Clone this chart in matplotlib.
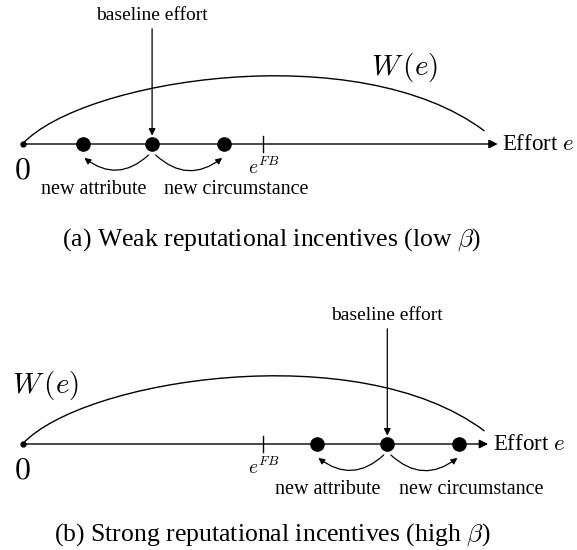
import matplotlib
matplotlib.use('Agg')
import matplotlib.pyplot as plt
from matplotlib.patches import FancyArrowPatch, PathPatch
from matplotlib.path import Path

plt.rcParams['font.family'] = ['Liberation Serif', 'DejaVu Serif']
plt.rcParams['mathtext.fontset'] = 'cm'

# effort axis in units of first-best effort (e^FB = 1)
e_fb = 1.0
captions = [r'(a) Weak reputational incentives (low $\beta$)',
            r'(b) Strong reputational incentives (high $\beta$)']
# new attribute, baseline, new circumstance
weak_efforts = [0.25, 0.54, 0.84]
strong_efforts = [1.225, 1.52, 1.82]
axis_ends = [1.98, 1.94]
# W(e): bezier control points (effort, welfare)
w_ctrl_x = [0.0, 0.25, 1.4, 1.925]
w_ctrl_y = [0.0, 0.27, 0.45, 0.054]
w_label_xy = [(1.59, 0.317), (0.098, 0.242)]
caption_y = [-0.40, -0.378]

SCALE = 240.0  # pixels per effort unit


def draw_panel(ax, efforts, axis_end, w_xy, caption, cap_y):
    ax.set_axis_off()
    # effort axis
    ax.annotate('', xy=(axis_end, 0), xytext=(0, 0),
                arrowprops=dict(arrowstyle='-|>', lw=1.0, color='k',
                                mutation_scale=13, shrinkA=0, shrinkB=0))
    ax.text(axis_end + 0.02, 0, r'Effort $e$', fontsize=16.5, ha='left', va='center')
    ax.plot([0], [0], 'o', color='k', ms=3.5)
    ax.text(0.0, -0.112, r'$0$', fontsize=23, ha='center', va='center')

    # welfare curve
    verts = list(zip(w_ctrl_x, w_ctrl_y))
    path = Path(verts, [Path.MOVETO, Path.CURVE4, Path.CURVE4, Path.CURVE4])
    ax.add_patch(PathPatch(path, fill=False, lw=1.0, color='k'))
    ax.text(w_xy[0], w_xy[1], r'$W\,(e)$', fontsize=21, ha='center', va='center')

    # first-best tick
    ax.plot([e_fb, e_fb], [-0.035, 0.035], color='k', lw=1.0)
    ax.text(e_fb + 0.005, -0.052, r'$e^{FB}$', fontsize=14, ha='center', va='top')

    lo, base, hi = efforts
    ax.plot(efforts, [0] * len(efforts), 'o', color='k', ms=9.5, zorder=5)

    # baseline label and arrow
    ax.text(base, 0.535, 'baseline effort', fontsize=14, ha='center', va='center')
    ax.annotate('', xy=(base, 0.035), xytext=(base, 0.48),
                arrowprops=dict(arrowstyle='-|>', lw=0.9, color='k',
                                mutation_scale=10, shrinkA=0, shrinkB=0))

    # shifts
    for start, end, rad in [((base - 0.015, -0.046), (lo + 0.008, -0.058), -0.42),
                            ((base + 0.015, -0.046), (hi - 0.008, -0.058), 0.42)]:
        ax.add_patch(FancyArrowPatch(start, end, arrowstyle='-|>', mutation_scale=9,
                                     connectionstyle='arc3,rad=%s' % rad,
                                     lw=0.9, color='k', shrinkA=0, shrinkB=0))
    ax.text(lo + 0.045, -0.19, 'new attribute', fontsize=14.5, ha='center', va='center')
    ax.text(hi + 0.05, -0.19, 'new circumstance', fontsize=14.5, ha='center', va='center')

    ax.text(1.04, cap_y, caption, fontsize=18.5, ha='center', va='center')


fig = plt.figure(figsize=(5.77, 5.5), dpi=100)
x0 = -22.5 / SCALE
x1 = (577 - 22.5) / SCALE

ax_top = fig.add_axes([0, 260 / 550, 1, 290 / 550])
ax_top.set_xlim(x0, x1)
ax_top.set_ylim(-(290 - 144) / SCALE, 144 / SCALE)
draw_panel(ax_top, weak_efforts, axis_ends[0], w_label_xy[0], captions[0], caption_y[0])

ax_bot = fig.add_axes([0, 0, 1, 260 / 550])
ax_bot.set_xlim(x0, x1)
ax_bot.set_ylim(-(550 - 444) / SCALE, (444 - 290) / SCALE)
draw_panel(ax_bot, strong_efforts, axis_ends[1], w_label_xy[1], captions[1], caption_y[1])

fig.savefig('out.png', dpi=100)
